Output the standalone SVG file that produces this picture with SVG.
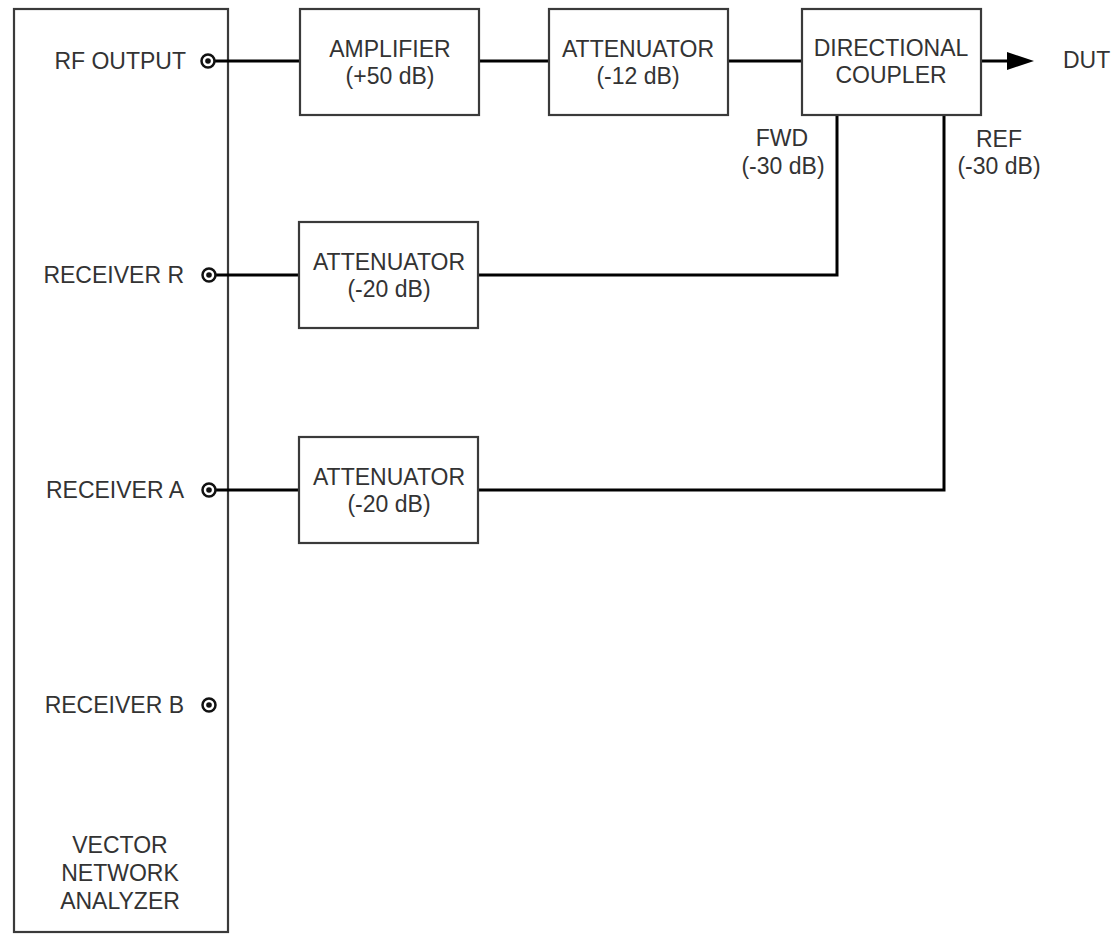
<svg xmlns="http://www.w3.org/2000/svg" width="1118" height="935" viewBox="0 0 1118 935">
<defs>
<style>
.box{fill:#fff;stroke:#3a3a3a;stroke-width:2.2}
.t{font-family:"Liberation Sans",Arial,sans-serif;font-size:23px;fill:#333}
.c{text-anchor:middle}
.e{text-anchor:end}
.w{fill:none;stroke:#000;stroke-width:3}
.port{fill:#fff;stroke:#111;stroke-width:2.5}
.dot{fill:#111}
</style>
</defs>
<rect width="1118" height="935" fill="#fff"/>
<g id="vna">
<rect class="box" x="14" y="9" width="214" height="923"/>
<text class="t c" x="120" y="853">VECTOR</text>
<text class="t c" x="120" y="881">NETWORK</text>
<text class="t c" x="120" y="909">ANALYZER</text>
</g>
<g id="connectors">
<line class="w" x1="209" y1="61" x2="300" y2="61"/>
<line class="w" x1="479" y1="61" x2="549" y2="61"/>
<line class="w" x1="728" y1="61" x2="802" y2="61"/>
<line class="w" x1="981" y1="61" x2="1010" y2="61"/>
<path d="M1007,52 L1034,61 L1007,70 z" fill="#000"/>
<polyline class="w" points="837,115 837,275 479,275"/>
<polyline class="w" points="944,115 944,490 479,490"/>
<line class="w" x1="209" y1="275" x2="299" y2="275"/>
<line class="w" x1="209" y1="490" x2="299" y2="490"/>
</g>
<g id="port-rf">
<text class="t e" x="186" y="69">RF OUTPUT</text>
<circle class="port" cx="208" cy="61" r="6.5"/>
<circle class="dot" cx="208" cy="61" r="2.8"/>
</g>
<g id="port-r">
<text class="t e" x="184" y="283">RECEIVER R</text>
<circle class="port" cx="209" cy="275" r="6.5"/>
<circle class="dot" cx="209" cy="275" r="2.8"/>
</g>
<g id="port-a">
<text class="t e" x="184" y="498">RECEIVER A</text>
<circle class="port" cx="209" cy="490" r="6.5"/>
<circle class="dot" cx="209" cy="490" r="2.8"/>
</g>
<g id="port-b">
<text class="t e" x="184" y="713">RECEIVER B</text>
<circle class="port" cx="209" cy="705" r="6.5"/>
<circle class="dot" cx="209" cy="705" r="2.8"/>
</g>
<g id="amplifier">
<rect class="box" x="300" y="9" width="179" height="106"/>
<text class="t c" x="390" y="57">AMPLIFIER</text>
<text class="t c" x="390" y="84">(+50 dB)</text>
</g>
<g id="attenuator-12">
<rect class="box" x="549" y="9" width="179" height="106"/>
<text class="t c" x="638" y="57">ATTENUATOR</text>
<text class="t c" x="638" y="84">(-12 dB)</text>
</g>
<g id="coupler">
<rect class="box" x="802" y="9" width="179" height="106"/>
<text class="t c" x="891" y="56">DIRECTIONAL</text>
<text class="t c" x="891" y="83">COUPLER</text>
</g>
<g id="dut">
<text class="t" x="1063" y="68">DUT</text>
</g>
<g id="fwd-label">
<text class="t c" x="782" y="146">FWD</text>
<text class="t c" x="783" y="174">(-30 dB)</text>
</g>
<g id="ref-label">
<text class="t c" x="999" y="147">REF</text>
<text class="t c" x="999" y="174">(-30 dB)</text>
</g>
<g id="attenuator-r">
<rect class="box" x="299" y="222" width="179" height="106"/>
<text class="t c" x="389" y="270">ATTENUATOR</text>
<text class="t c" x="389" y="297">(-20 dB)</text>
</g>
<g id="attenuator-a">
<rect class="box" x="299" y="437" width="179" height="106"/>
<text class="t c" x="389" y="485">ATTENUATOR</text>
<text class="t c" x="389" y="512">(-20 dB)</text>
</g>
</svg>
